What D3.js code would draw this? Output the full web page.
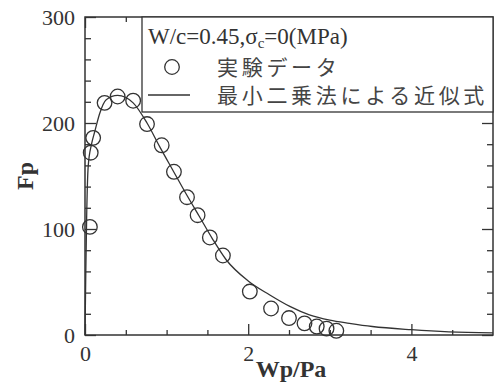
<!DOCTYPE html>
<html lang="ja">
<head>
<meta charset="UTF-8">
<title>Fp - Wp/Pa</title>
<script src="https://d3js.org/d3.v7.min.js"></script>
<style>
  body { margin: 0; background: #fff; }
  svg { display: block; }
  .tick text { font-family: "Liberation Serif", "DejaVu Serif", serif; font-size: 22px; fill: #333; }
  .tick line { stroke: #333; stroke-width: 1.3; }
  .serif { font-family: "Liberation Serif", "DejaVu Serif", serif; fill: #333; }
  .cjk { font-family: "Noto Sans CJK JP", sans-serif; fill: #444; }
</style>
</head>
<body>
<svg id="chart" width="494" height="390"></svg>
<script>
// experimental points (Wp/Pa, Fp)
const expX = [0.06, 0.07, 0.10, 0.24, 0.40, 0.59, 0.76, 0.94, 1.09, 1.25, 1.38, 1.53, 1.69, 2.02, 2.28, 2.50, 2.69, 2.84, 2.96, 3.08];
const expY = [102, 172, 186, 219, 225, 221, 199, 179, 154, 130, 113, 92, 75, 41, 25, 16, 11, 8, 6, 4];

// least squares fit curve
const fitX = [0, 0.01, 0.02, 0.04, 0.08, 0.12, 0.18, 0.26, 0.40, 0.59, 0.76, 0.92, 1.08, 1.24, 1.40, 1.56, 1.73, 2.00, 2.26, 2.51, 2.75, 3.00, 3.24, 3.52, 4.00, 4.46, 5.00];
const fitY = [0, 60, 110, 160, 180, 192, 209, 222, 226, 219, 200, 177, 155, 133, 112, 91, 71, 51, 38, 27, 19, 14, 11, 8, 5, 3, 2];

const xTicks = [0, 2, 4];
const xMinor = [0.5, 1, 1.5, 2.5, 3, 3.5, 4.5];
const yTicks = [0, 100, 200, 300];
const yMinor = [20, 40, 60, 80, 120, 140, 160, 180, 220, 240, 260, 280];

const legendTitle = ["W/c=0.45,σ", "c", "=0(MPa)"];
const legendLabels = ["実験データ", "最小二乗法による近似式"];

const svg = d3.select("#chart");
const margin = { top: 17, right: 1, bottom: 55, left: 85 };
const width = 494, height = 390;

const x = d3.scaleLinear().domain([0, 5]).range([margin.left, width - margin.right]);
const y = d3.scaleLinear().domain([0, 300]).range([height - margin.bottom, margin.top]);

const plotW = x(5) - x(0), plotH = y(0) - y(300);

// ticks (inward, on all four sides)
function tickAxis(axis, vals, len, tr, labels) {
  const g = svg.append("g").attr("transform", tr)
    .call(axis.tickValues(vals).tickSizeInner(-len).tickSizeOuter(0).tickPadding(10)
      .tickFormat(labels ? d3.format("d") : ""));
  g.select(".domain").remove();
  return g;
}

tickAxis(d3.axisBottom(x), xTicks, 11, `translate(0,${y(0)})`, true);
tickAxis(d3.axisBottom(x), xMinor, 5, `translate(0,${y(0)})`, false);
tickAxis(d3.axisTop(x), xTicks, 11, `translate(0,${y(300)})`, false);
tickAxis(d3.axisTop(x), xMinor, 5, `translate(0,${y(300)})`, false);
tickAxis(d3.axisLeft(y), yTicks, 11, `translate(${x(0)},0)`, true);
tickAxis(d3.axisLeft(y), yMinor, 6, `translate(${x(0)},0)`, false);
tickAxis(d3.axisRight(y), yTicks, 11, `translate(${x(5)},0)`, false);
tickAxis(d3.axisRight(y), yMinor, 6, `translate(${x(5)},0)`, false);

// frame
svg.append("rect")
  .attr("x", x(0)).attr("y", y(300))
  .attr("width", plotW).attr("height", plotH)
  .attr("fill", "none").attr("stroke", "#333").attr("stroke-width", 1.5);

// fit curve
const fit = fitX.map((d, i) => [d, fitY[i]]);
svg.append("path")
  .datum(fit)
  .attr("fill", "none")
  .attr("stroke", "#333")
  .attr("stroke-width", 1.3)
  .attr("d", d3.line().x(d => x(d[0])).y(d => y(d[1])).curve(d3.curveMonotoneX));

// experimental circles
const pts = expX.map((d, i) => [d, expY[i]]);
svg.selectAll(".pt")
  .data(pts)
  .enter()
  .append("circle")
  .attr("class", "pt")
  .attr("cx", d => x(d[0]))
  .attr("cy", d => y(d[1]))
  .attr("r", 7.3)
  .attr("fill", "none")
  .attr("stroke", "#333")
  .attr("stroke-width", 1.3);

// legend
const lg = svg.append("g");
lg.append("rect")
  .attr("x", 142).attr("y", y(300))
  .attr("width", x(5) - 142).attr("height", 95)
  .attr("fill", "#fff").attr("stroke", "#333").attr("stroke-width", 1.3);

const t1 = lg.append("text").attr("class", "serif")
  .attr("x", 148).attr("y", 44).attr("font-size", 23);
t1.append("tspan").text(legendTitle[0]);
t1.append("tspan").attr("font-size", 15).attr("dy", 4).text(legendTitle[1]);
t1.append("tspan").attr("dy", -4).text(legendTitle[2]);

lg.append("circle")
  .attr("cx", 172).attr("cy", 67).attr("r", 7.3)
  .attr("fill", "none").attr("stroke", "#333").attr("stroke-width", 1.3);
lg.append("line")
  .attr("x1", 148).attr("x2", 190).attr("y1", 95).attr("y2", 95)
  .attr("stroke", "#333").attr("stroke-width", 1.3);

lg.selectAll(".lab")
  .data(legendLabels)
  .enter()
  .append("text")
  .attr("class", "cjk lab")
  .attr("x", 217)
  .attr("y", (d, i) => 75 + i * 28)
  .attr("font-size", 21)
  .attr("letter-spacing", 3.7)
  .text(d => d);

// axis titles
svg.append("text").attr("class", "serif")
  .attr("x", (x(0) + x(5)) / 2 + 2).attr("y", 377)
  .attr("text-anchor", "middle").attr("font-weight", "bold").attr("font-size", 24)
  .text("Wp/Pa");

svg.append("text").attr("class", "serif")
  .attr("transform", `translate(33,${(y(0) + y(300)) / 2}) rotate(-90)`)
  .attr("text-anchor", "middle").attr("font-weight", "bold").attr("font-size", 24)
  .text("Fp");
</script>
</body>
</html>
